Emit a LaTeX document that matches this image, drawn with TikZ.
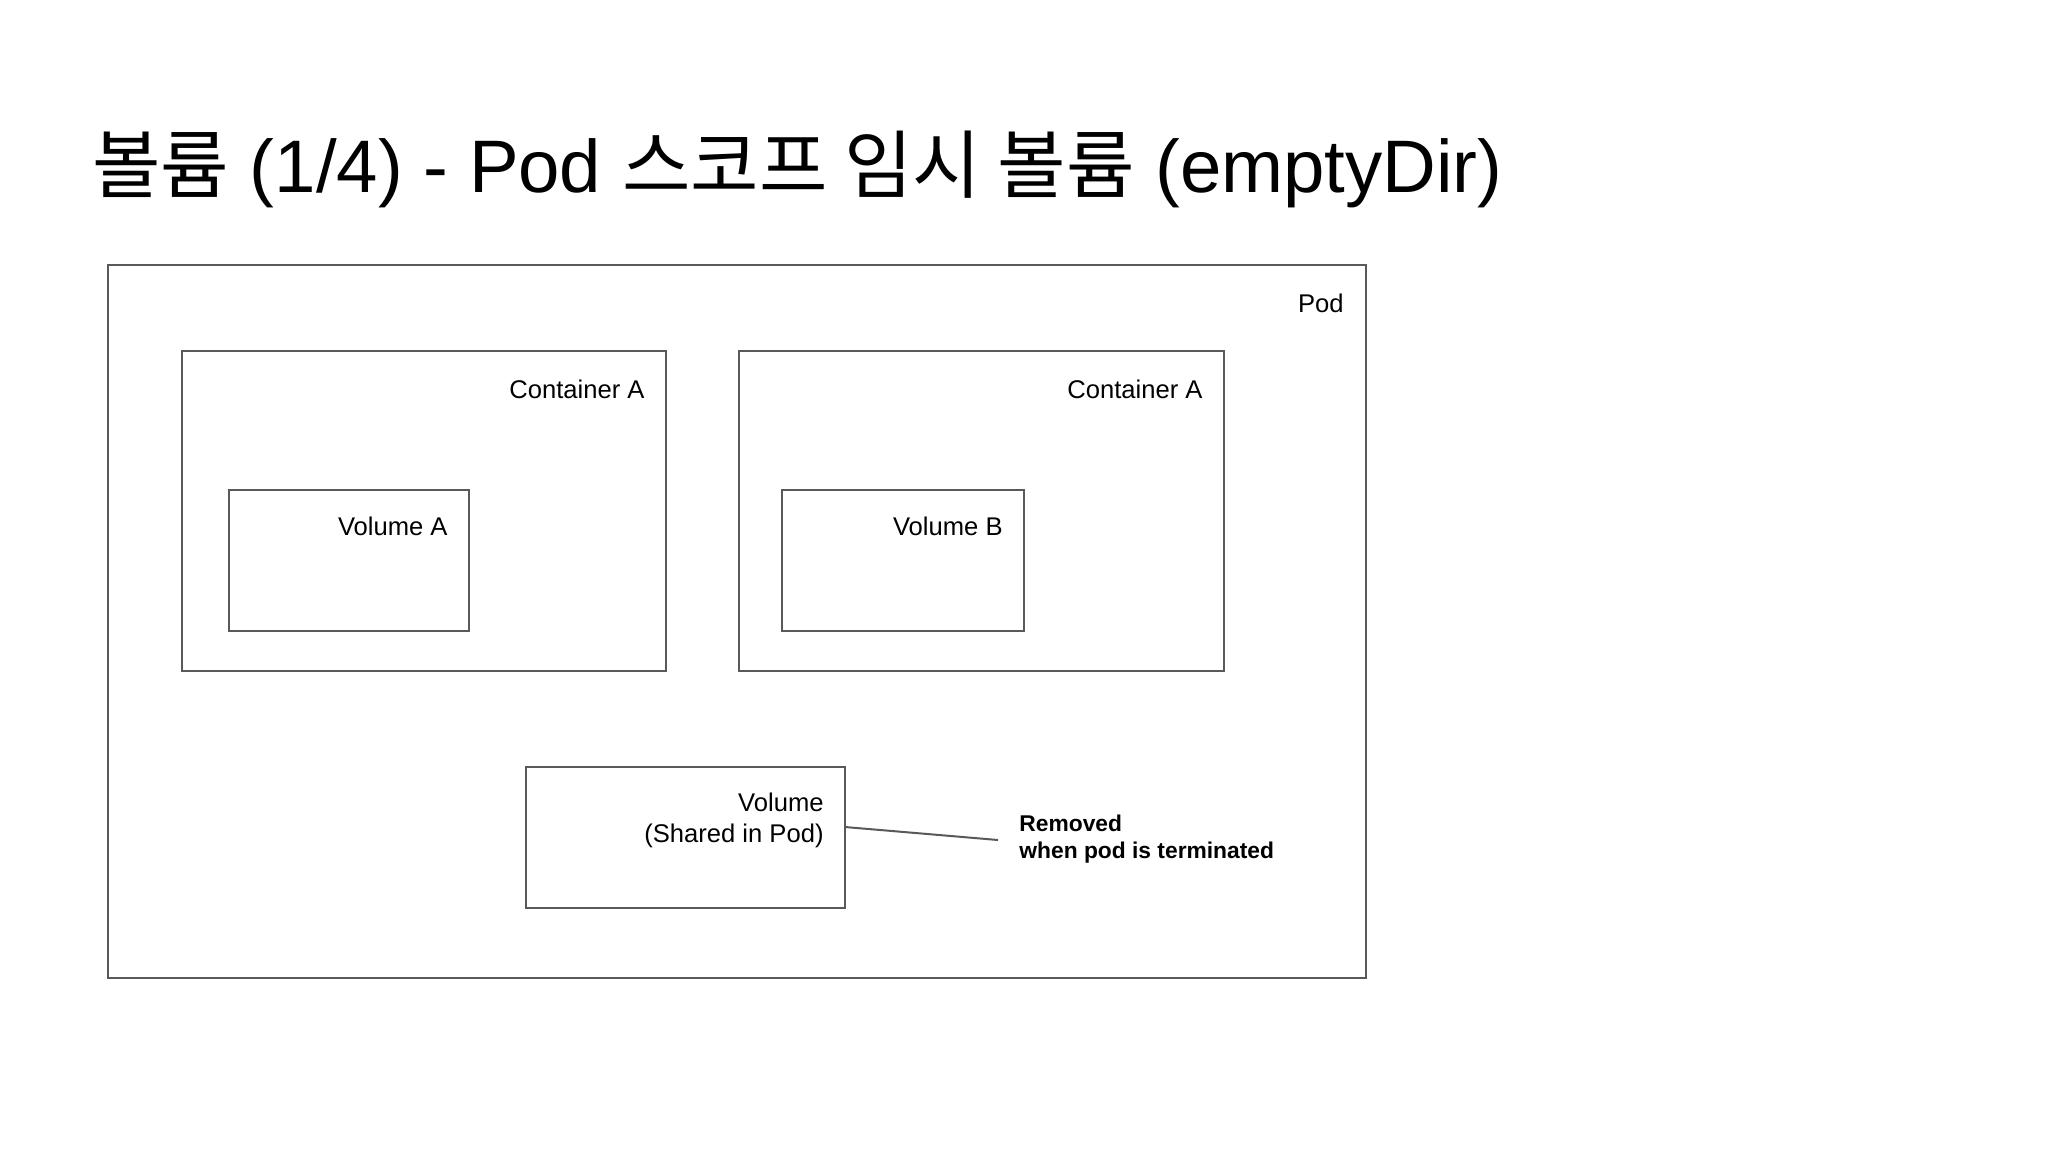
\documentclass[tikz,border=0pt]{standalone}
\usepackage{fontspec}
\setmainfont{Liberation Sans}
\newfontfamily\kr{Noto Sans CJK KR}
\usetikzlibrary{calc}
\definecolor{edge}{RGB}{89,89,89}
\tikzset{
  box/.style={draw=edge, line width=1pt, inner sep=0pt, outer sep=0pt, anchor=north west},
  lbl/.style={inner sep=0pt, font=\fontsize{12.8}{15.5}\selectfont, anchor=base east},
  note/.style={inner sep=0pt, font=\bfseries\fontsize{11.4}{13.5}\selectfont, align=left, anchor=north west},
  link/.style={draw=edge, line width=1pt}
}
\begin{document}
\begin{tikzpicture}[x=0.5pt,y=-0.5pt]
\useasboundingbox[fill=white] (0,0) rectangle (2048,1152);
\node[inner sep=0pt, anchor=base west, font=\fontsize{37.2}{40}\selectfont] (title) at (92,192)
  {{\kr 볼륨} (1/4) - Pod {\kr 스코프 임시 볼륨} (emptyDir)};
% boxes
\node[box, minimum width=629pt, minimum height=356.5pt] (pod) at (108,265) {};
\node[box, minimum width=242pt, minimum height=160pt] (ca) at (182,351) {};
\node[box, minimum width=242.5pt, minimum height=160pt] (cb) at (739,351) {};
\node[box, minimum width=120pt, minimum height=70.5pt] (va) at (229,490) {};
\node[box, minimum width=121pt, minimum height=70.5pt] (vb) at (782,490) {};
\node[box, minimum width=159.5pt, minimum height=70.5pt] (vs) at (526,767) {};
% labels
\node[lbl] (podl) at ($(pod.north east)+(-22,47)$) {Pod};
\node[lbl] (cal) at ($(ca.north east)+(-21,47)$) {Container A};
\node[lbl] (cbl) at ($(cb.north east)+(-21,47)$) {Container A};
\node[lbl] (val) at ($(va.north east)+(-21,45)$) {Volume A};
\node[lbl] (vbl) at ($(vb.north east)+(-21,45)$) {Volume B};
\node[lbl, align=right, anchor=north east] (vsl) at ($(vs.north east)+(-21,26)$) {Volume\\(Shared in Pod)};
% note
\node[note] (rm) at (1019,815) {Removed\\when pod is terminated};
\coordinate (rmend) at (998,840);
\draw[link] (vs.east |- 0,827) -- (rmend);
\end{tikzpicture}
\end{document}
